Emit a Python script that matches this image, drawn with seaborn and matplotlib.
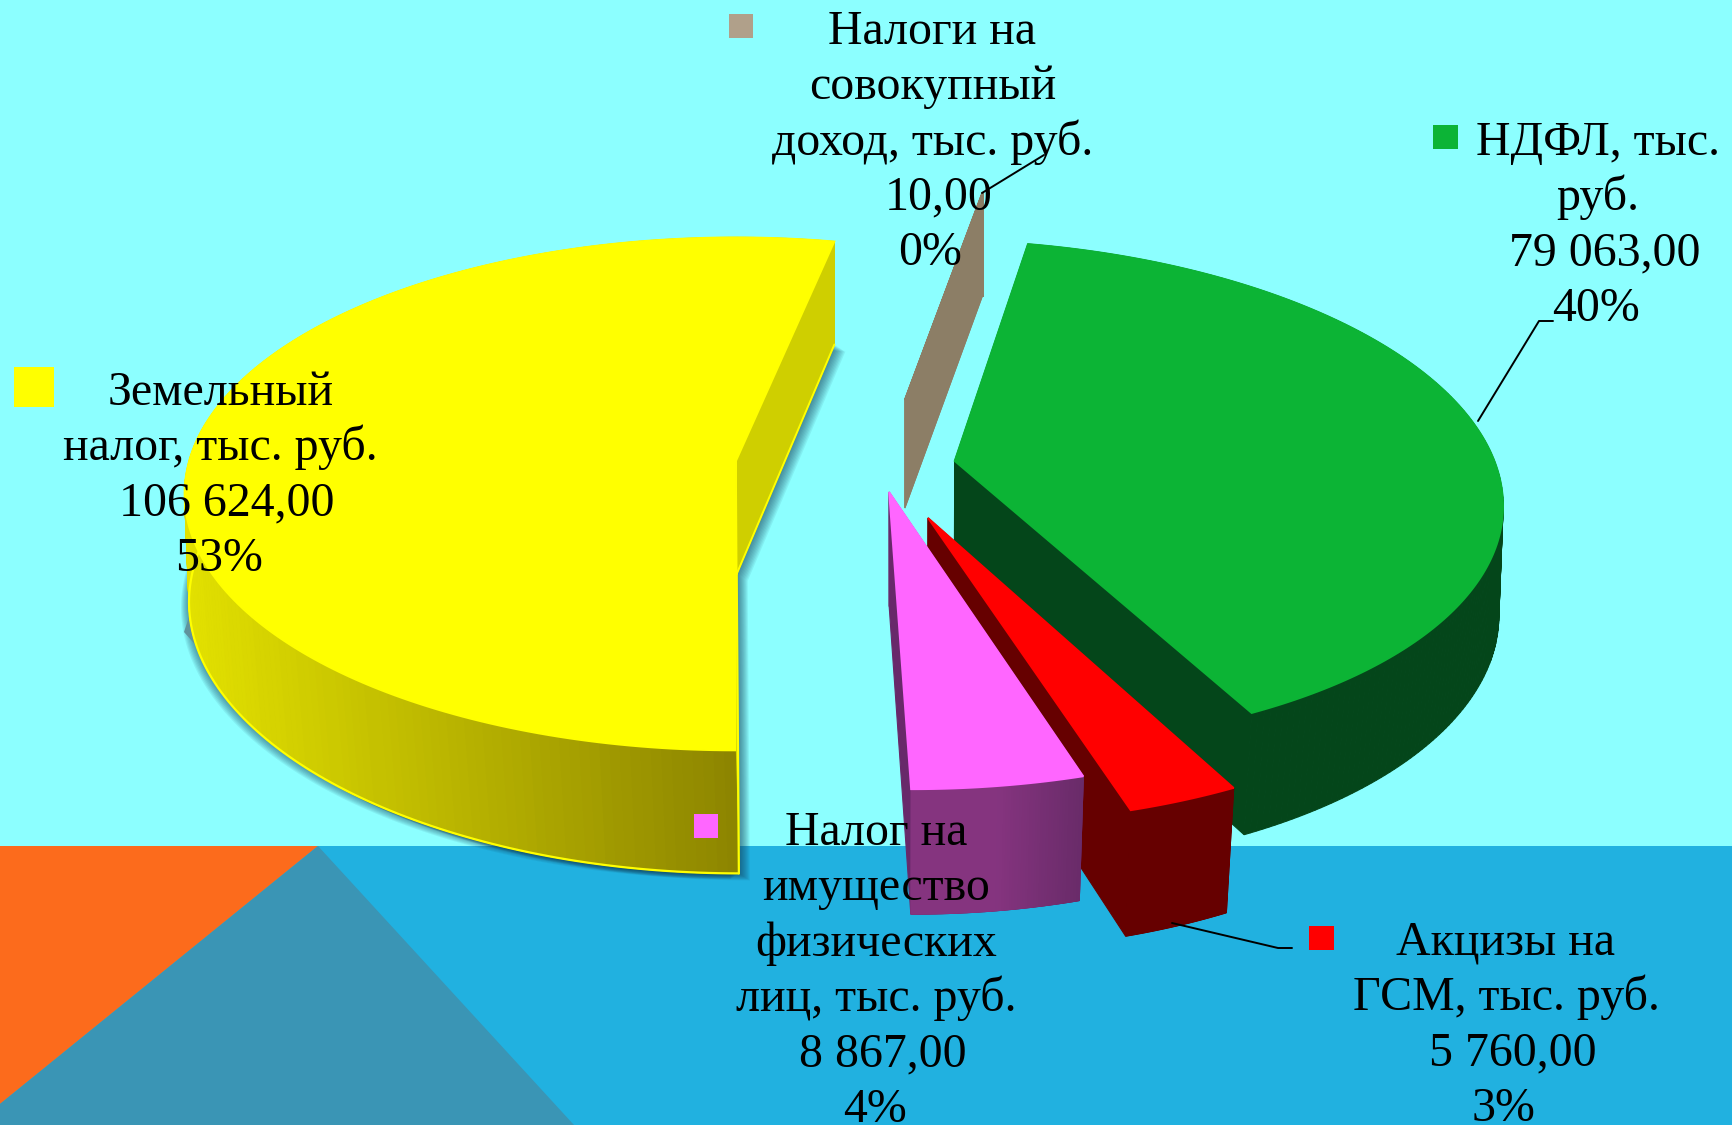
import numpy as np
import matplotlib
matplotlib.use("Agg")
import matplotlib.pyplot as plt
from matplotlib.patches import Polygon, Rectangle
import seaborn as sns

# ---- data -------------------------------------------------------------
categories = ["НДФЛ", "Акцизы на ГСМ", "Налог на имущество физических лиц",
              "Земельный налог", "Налоги на совокупный доход"]
values = [79063.0, 5760.0, 8867.0, 106624.0, 10.0]
value_labels = ["79 063,00", "5 760,00", "8 867,00", "106 624,00", "10,00"]
percent_labels = ["40%", "3%", "4%", "53%", "0%"]

top_colors = ["#0CB435", "#FF0000", "#FF66FF", "#FFFF00", "#8C7E66"]
side_colors = ["#04461A", "#660000", "#68296A", "#CFCF00", "#8C7E66"]
key_colors = ["#0CB436", "#FF0000", "#FF66FF", "#FFFF00", "#B0A08A"]

# ---- layout ------------------------------------------------------------
W, H = 1732, 1125
CX, CY, A, B, K = 736.0, 461.0, 548.0, 252.8, 0.1285
START_CLOCK = 11.7
# wedge offsets in the pie plane (explosion) and drawn radii
apex = [(0.399, 0.0), (0.3405, -0.219), (0.275, -0.1207), (0.0, 0.0), (0.318, 0.249)]
radii = [0.985, 0.992, 0.992, 0.998, 1.0]

sns.set_theme(style="white")
plt.rcParams["font.family"] = ["Liberation Serif", "DejaVu Serif"]

fig = plt.figure(figsize=(W / 100, H / 100), dpi=100)

# angles from the library's pie layout
tmp = fig.add_axes([0, 0, 0.1, 0.1])
wedges, _ = tmp.pie(values, startangle=90 - START_CLOCK, counterclock=False)
angles = [(w.theta1, w.theta2) for w in wedges]
tmp.remove()

ax = fig.add_axes([0, 0, 1, 1])
ax.set_xlim(0, W)
ax.set_ylim(H, 0)
ax.axis("off")

# background
ax.add_patch(Rectangle((0, 0), W, 846, color="#8CFFFF", lw=0, zorder=0))
ax.add_patch(Rectangle((0, 846), W, H - 846, color="#21B1E0", lw=0, zorder=0))
ax.add_patch(Polygon([(0, 846), (318, 846), (0, 1104)], color="#FC6B1C", lw=0, zorder=1))
ax.add_patch(Polygon([(318, 846), (574, 1125), (0, 1125), (0, 1104)], color="#3A95B5", lw=0, zorder=1))


def project(u, v):
    w = 1 + K * v
    return CX + A * u / w, CY - B * v / w


def drop(x, y):
    d = np.interp(y, [193, 240, 400, 461, 751, 811], [103, 103, 108, 113, 123, 126])
    s = 0.022 * np.clip((y - 400) / 320, 0, 1)
    return x - (x - 900) * s, y + d


def outline(i, n=200):
    t1, t2 = angles[i]
    th = np.radians(np.linspace(t1, t2, n))
    u0, v0 = apex[i]
    ax_, ay_ = project(u0, v0)
    ox, oy = project(u0 + radii[i] * np.cos(th), v0 + radii[i] * np.sin(th))
    return (ax_, ay_), ox, oy


def draw_wedge(i, z, grad=None):
    (ax0, ay0), ox, oy = outline(i)
    px = np.r_[ax0, ox]
    py = np.r_[ay0, oy]
    bx, by = drop(px, py)
    sc = side_colors[i]
    # extruded side as one quad per outline step, flat colour
    m = len(px)
    for j in range(m):
        k = (j + 1) % m
        ax.add_patch(Polygon([(px[j], py[j]), (px[k], py[k]), (bx[k], by[k]), (bx[j], by[j])],
                             fc=sc, ec=sc, lw=0.8, zorder=z))
    # outer face with a left-to-right colour gradient
    if grad is not None:
        pal = sns.blend_palette(grad, 64)
        front = oy > CY - 40
        x0, x1 = ox[front].min(), ox[front].max()
        for j in range(len(ox) - 1):
            if not (front[j] and front[j + 1]):
                continue
            c = pal[int(63 * (0.5 * (ox[j] + ox[j + 1]) - x0) / (x1 - x0))]
            ax.add_patch(Polygon([(ox[j], oy[j]), (ox[j + 1], oy[j + 1]),
                                  (bx[j + 2], by[j + 2]), (bx[j + 1], by[j + 1])],
                                 fc=c, ec=c, lw=0.8, zorder=z + 0.1))
    ax.add_patch(Polygon(np.c_[px, py], fc=top_colors[i], ec=top_colors[i], lw=1.3, zorder=z + 0.2))
    return px, py, bx, by


# yellow wedge shadow
(ax0, ay0), ox, oy = outline(3)
sx, sy = drop(np.r_[ax0, ox], np.r_[ay0, oy])
for off in range(1, 11):
    ax.add_patch(Polygon(np.c_[sx + off * 1.1, sy + off * 0.7], fc="#123A55", ec="none",
                         alpha=0.08, zorder=2))
for off in range(1, 9):
    ax.add_patch(Polygon(np.c_[sx - off * 1.0, sy + off * 0.7], fc="#123A55", ec="none",
                         alpha=0.08, zorder=2))
ax.add_patch(Polygon([(184, 632), (193, 605), (200, 650)], fc="#5F939C", ec="none", zorder=2))

px, py, bx, by = draw_wedge(3, 3, grad=["#E2E000", "#8C8400"])
# thin bright edges of the yellow slice
front = py[1:] > CY - 40
ax.plot(bx[1:][front], by[1:][front], color="#FFFF00", lw=1.6, zorder=3.3)
far = np.argmax(bx[1:] * (~front)) + 1
ax.plot([bx[far], bx[0]], [by[far], by[0]], color="#FFFF00", lw=1.4, zorder=3.3)
ax.plot([px[0], bx[0]], [py[0], by[0]], color="#FFFF00", lw=1.2, zorder=3.3)
bottom_end = np.argmax(bx[1:] * front) + 1
ax.plot([bx[0], bx[bottom_end]], [by[0], by[bottom_end]], color="#FFFF00", lw=1.6, zorder=3.3)

draw_wedge(4, 4)
draw_wedge(0, 5)
draw_wedge(1, 6)
draw_wedge(2, 7, grad=["#85347F", "#85347F", "#692B69"])

# leader lines
ax.plot([982, 1044], [193, 155], color="black", lw=1.4, zorder=9)
ax.plot([1478, 1539, 1553], [421, 321, 321], color="black", lw=1.4, zorder=9)
ax.plot([1172, 1278, 1292], [923, 948, 948], color="black", lw=1.4, zorder=9)

# legend keys (x, y, w, h per wedge order)
keys = [(1433, 125, 25, 24), (1309, 926, 25, 24), (694, 814, 24, 24),
        (14, 367, 40, 40), (729, 14, 24, 24)]
for (kx, ky, kw, kh), c in zip(keys, key_colors):
    ax.add_patch(Rectangle((kx, ky), kw, kh, fc=c, ec="none", zorder=10))

# data labels
label_lines = [
    ["НДФЛ, тыс.", "руб."],
    ["Акцизы на", "ГСМ, тыс. руб."],
    ["Налог на", "имущество", "физических", "лиц, тыс. руб."],
    ["Земельный", "налог, тыс. руб."],
    ["Налоги на", "совокупный", "доход, тыс. руб."],
]
label_pos = [(1598, 155), (1506, 955), (876.5, 845), (220.5, 405), (932.5, 44)]
STEP = 55.3
for lines, val, pct, (xc, y0) in zip(label_lines, value_labels, percent_labels, label_pos):
    rows = [(t, 0) for t in lines] + [(val, 6.5), (pct, -2)]
    for j, (t, dx) in enumerate(rows):
        ax.text(xc + dx, y0 + j * STEP, t, ha="center", va="baseline", fontsize=34.5,
                color="black", zorder=11)

fig.savefig("out.png", dpi=100)
